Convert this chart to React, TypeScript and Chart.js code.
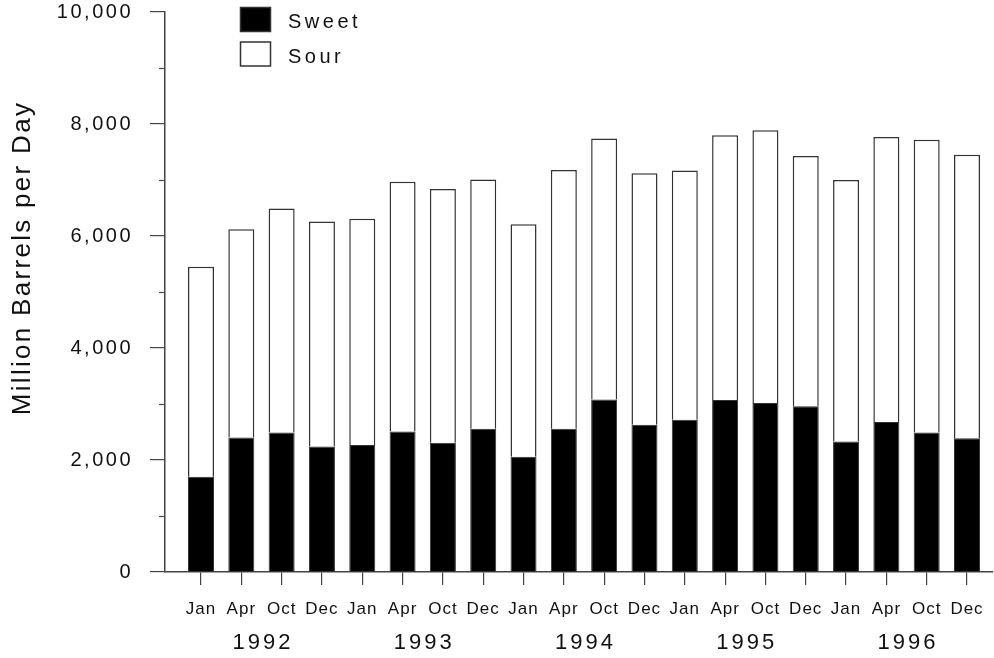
import React, { useEffect, useRef } from 'react';
import { Chart, registerables } from 'chart.js';

Chart.register(...registerables);

// ---- data ----
const months = [
  'Jan', 'Apr', 'Oct', 'Dec',
  'Jan', 'Apr', 'Oct', 'Dec',
  'Jan', 'Apr', 'Oct', 'Dec',
  'Jan', 'Apr', 'Oct', 'Dec',
  'Jan', 'Apr', 'Oct', 'Dec',
];
const years = ['1992', '1993', '1994', '1995', '1996'];
const sweet = [1700, 2400, 2490, 2240, 2270, 2510, 2310, 2560, 2060, 2560, 3080, 2630, 2720, 3070, 3020, 2960, 2330, 2680, 2490, 2390];
const sour = [3750, 3720, 4000, 4020, 4040, 4460, 4530, 4450, 4150, 4620, 4660, 4490, 4450, 4730, 4870, 4470, 4670, 5090, 5230, 5060];
const yMajorTicks = [0, 2000, 4000, 6000, 8000, 10000];
const yMinorTicks = [1000, 3000, 5000, 7000, 9000];
const yTitle = 'Million Barrels per Day';

const FONT = "'Liberation Sans', Arial, Helvetica, sans-serif";
const INK = '#111111';
const AXIS = '#444444';

const decorPlugin = {
  id: 'decor',
  beforeDraw(chart: any) {
    chart.ctx.letterSpacing = '1px';
  },
  afterDatasetsDraw(chart: any) {
    chart.ctx.letterSpacing = '2.5px';
  },
  afterDraw(chart: any) {
    const ctx = chart.ctx;
    const xs = chart.scales.x;
    const ys = chart.scales.y;
    const area = chart.chartArea;
    ctx.save();
    // minor y ticks
    ctx.strokeStyle = AXIS;
    ctx.lineWidth = 1.2;
    yMinorTicks.forEach((v) => {
      const y = Math.round(ys.getPixelForValue(v)) + 0.5;
      ctx.beginPath();
      ctx.moveTo(area.left - 6, y);
      ctx.lineTo(area.left, y);
      ctx.stroke();
    });
    // years
    ctx.fillStyle = INK;
    ctx.letterSpacing = '3px';
    ctx.font = `22px ${FONT}`;
    ctx.textAlign = 'center';
    ctx.textBaseline = 'middle';
    years.forEach((yr, k) => {
      const cx = xs.getPixelForValue(k * 4 + 1.5) + 1.5;
      ctx.fillText(yr, cx, area.bottom + 71);
    });
    // y title
    ctx.save();
    ctx.letterSpacing = '2.3px';
    ctx.font = `26px ${FONT}`;
    ctx.translate(23, (area.top + area.bottom) / 2 - 34);
    ctx.rotate(-Math.PI / 2);
    ctx.fillText(yTitle, 0, 0);
    ctx.restore();
    // legend
    ctx.letterSpacing = '3.5px';
    ctx.font = `20px ${FONT}`;
    ctx.textAlign = 'left';
    chart.data.datasets.forEach((ds: any, i: number) => {
      const bx = 240.5;
      const by = 7.5 + i * 34.5;
      ctx.fillStyle = ds.backgroundColor;
      ctx.fillRect(bx, by, 30, 24);
      ctx.strokeStyle = ds.borderColor;
      ctx.lineWidth = 1.5;
      ctx.strokeRect(bx, by, 30, 24);
      ctx.fillStyle = INK;
      ctx.fillText(ds.label, 288, by + 15);
    });
    ctx.restore();
    ctx.letterSpacing = '0px';
  },
};

export default function App() {
  const ref = useRef<HTMLCanvasElement | null>(null);

  useEffect(() => {
    if (!ref.current) return;
    Chart.defaults.font.family = FONT;
    Chart.defaults.color = INK;
    const chart = new Chart(ref.current, {
      type: 'bar',
      data: {
        datasets: [
          {
            label: 'Sweet',
            data: sweet.map((y, i) => ({ x: i, y })),
            backgroundColor: '#000000',
            borderColor: '#333333',
            borderWidth: 1,
            barPercentage: 0.645,
            categoryPercentage: 1,
          },
          {
            label: 'Sour',
            data: sour.map((y, i) => ({ x: i, y })),
            backgroundColor: '#ffffff',
            borderColor: '#333333',
            borderWidth: 1.5,
            barPercentage: 0.645,
            categoryPercentage: 1,
          },
        ],
      },
      options: {
        animation: false,
        responsive: true,
        maintainAspectRatio: false,
        layout: { padding: { top: 12, right: 1, left: 0, bottom: 0 } },
        plugins: {
          legend: { display: false },
          tooltip: { enabled: false },
          title: { display: false },
        },
        scales: {
          x: {
            type: 'linear',
            stacked: true,
            offset: false,
            min: -0.893,
            max: 19.645,
            afterBuildTicks: (s: any) => {
              s.ticks = months.map((_, i) => ({ value: i }));
            },
            afterFit: (s: any) => {
              s.height = 86;
              s.paddingLeft = 0;
              s.paddingRight = 0;
            },
            ticks: {
              autoSkip: false,
              maxRotation: 0,
              minRotation: 0,
              padding: 14,
              font: { size: 17 },
              color: INK,
              callback: (v: any) => months[v as number] ?? '',
            },
            grid: {
              offset: false,
              drawOnChartArea: false,
              drawTicks: true,
              tickLength: 13,
              color: AXIS,
              lineWidth: 1.2,
            },
            border: { display: true, color: AXIS, width: 1.5 },
          },
          y: {
            type: 'linear',
            stacked: true,
            min: 0,
            max: 10000,
            afterBuildTicks: (s: any) => {
              s.ticks = yMajorTicks.map((v) => ({ value: v }));
            },
            afterFit: (s: any) => {
              s.width = 165;
              s.paddingTop = 0;
              s.paddingBottom = 0;
            },
            ticks: {
              z: 1,
              padding: 17,
              font: { size: 20 },
              color: INK,
              callback: (v: any) => Number(v).toLocaleString('en-US'),
            },
            grid: {
              drawOnChartArea: false,
              drawTicks: true,
              tickLength: 15,
              color: AXIS,
              lineWidth: 1.2,
            },
            border: { display: true, color: AXIS, width: 1.5 },
          },
        },
      },
      plugins: [decorPlugin],
    } as any);
    return () => chart.destroy();
  }, []);

  return (
    <div style={{ position: 'fixed', left: 0, top: 0, width: 994, height: 658, background: '#ffffff' }}>
      <canvas ref={ref} />
    </div>
  );
}
